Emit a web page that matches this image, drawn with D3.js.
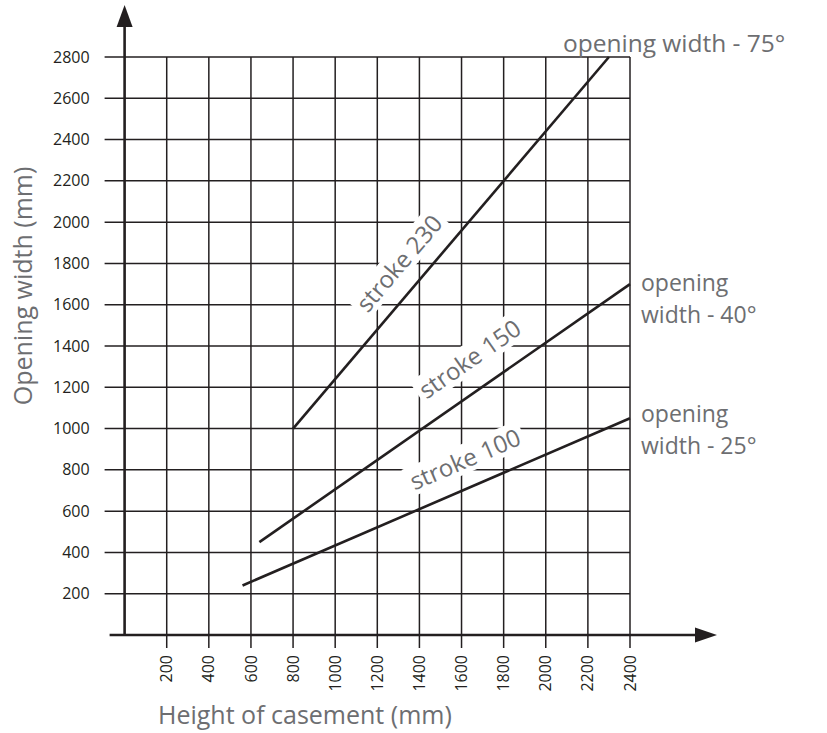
<!DOCTYPE html>
<html>
<head>
<meta charset="utf-8">
<script src="https://cdn.jsdelivr.net/npm/d3@7"></script>
<style>
  html, body { margin: 0; padding: 0; background: #fff; }
  svg { display: block; }
</style>
</head>
<body>
<svg id="chart" width="827" height="733"></svg>
<script>
// ---- data ----
const xTicks = [200, 400, 600, 800, 1000, 1200, 1400, 1600, 1800, 2000, 2200, 2400];
const yTicks = [200, 400, 600, 800, 1000, 1200, 1400, 1600, 1800, 2000, 2200, 2400, 2600, 2800];
const seriesNames = ["stroke 230", "stroke 150", "stroke 100"];
const endLabels = [["opening width - 75°"], ["opening", "width - 40°"], ["opening", "width - 25°"]];
const stroke230 = [[800, 1000], [2300, 2800]];
const stroke150 = [[640, 450], [2400, 1700]];
const stroke100 = [[560, 240], [2400, 1050]];
const labelAt = [[1305, 1800], [1640, 1336], [1618, 850]];
const xTitle = "Height of casement (mm)";
const yTitle = "Opening width (mm)";

const series = [stroke230, stroke150, stroke100];

// ---- layout ----
const svg = d3.select("#chart");
const ink = "#231f20";
const grey = "#6d6e71";
const font = "'Open Sans', 'Noto Sans', sans-serif";

const x = d3.scaleLinear().domain([0, 2400]).range([124.6, 630]);
const y = d3.scaleLinear().domain([0, 2800]).range([635, 57]);

// grid
const grid = svg.append("g");
grid.selectAll("line.h").data(yTicks).join("line")
  .attr("x1", x(0) - 20).attr("x2", x(2400))
  .attr("y1", d => y(d)).attr("y2", d => y(d))
  .attr("stroke", ink).attr("stroke-width", 1.5);
grid.selectAll("line.v").data(xTicks).join("line")
  .attr("x1", d => x(d)).attr("x2", d => x(d))
  .attr("y1", y(2800)).attr("y2", y(0) + 13)
  .attr("stroke", ink).attr("stroke-width", 1.5);

// y tick labels
svg.append("g").selectAll("text").data(yTicks).join("text")
  .attr("x", x(0) - 35).attr("y", d => y(d)).attr("dy", "0.35em")
  .attr("text-anchor", "end")
  .attr("font-family", font).attr("font-size", 16).attr("fill", ink)
  .text(d => d);

// x tick labels (rotated)
svg.append("g").selectAll("text").data(xTicks).join("text")
  .attr("transform", d => `translate(${x(d)},${y(0) + 20}) rotate(-90)`)
  .attr("dy", "0.35em")
  .attr("text-anchor", "end")
  .attr("font-family", font).attr("font-size", 16).attr("fill", ink)
  .text(d => d);

// series labels with white knockout
const lab = svg.append("g");
series.forEach((s, i) => {
  const p0 = [x(s[0][0]), y(s[0][1])], p1 = [x(s[1][0]), y(s[1][1])];
  const ang = Math.atan2(p1[1] - p0[1], p1[0] - p0[0]) * 180 / Math.PI;
  const g = lab.append("g")
    .attr("transform", `translate(${x(labelAt[i][0])},${y(labelAt[i][1])}) rotate(${ang})`);
  const t = g.append("text")
    .attr("text-anchor", "middle").attr("dy", "0.35em")
    .attr("font-family", font).attr("font-size", 24).attr("fill", grey)
    .text(seriesNames[i]);
  const bb = t.node().getBBox();
  g.insert("rect", "text")
    .attr("x", bb.x - 4).attr("y", bb.y + 2)
    .attr("width", bb.width + 8).attr("height", bb.height - 4)
    .attr("fill", "#fff");
});

// data lines
const line = d3.line().x(d => x(d[0])).y(d => y(d[1]));
svg.append("g").selectAll("path").data(series).join("path")
  .attr("d", line).attr("fill", "none")
  .attr("stroke", ink).attr("stroke-width", 2.6);

// end labels (one text element per line)
const endPos = [[-46, -5], [11, 7], [11, 4]];
series.forEach((s, i) => {
  const e = s[s.length - 1];
  endLabels[i].forEach((ln, k) => {
    svg.append("text")
      .attr("x", x(e[0]) + endPos[i][0])
      .attr("y", y(e[1]) + endPos[i][1] + k * 31.5)
      .attr("font-family", font).attr("font-size", i === 0 ? 24.5 : 23).attr("fill", grey)
      .text(ln);
  });
});

// axes with arrows
const ax = svg.append("g");
ax.append("line").attr("x1", x(0) - 15).attr("x2", 700).attr("y1", y(0)).attr("y2", y(0))
  .attr("stroke", ink).attr("stroke-width", 2.6);
ax.append("path").attr("d", `M717,${y(0)} L695,${y(0) - 7.5} L695,${y(0) + 7.5} Z`).attr("fill", ink);
ax.append("line").attr("x1", x(0)).attr("x2", x(0)).attr("y1", y(0) + 1).attr("y2", 22)
  .attr("stroke", ink).attr("stroke-width", 2.6);
ax.append("path").attr("d", `M${x(0)},5 L${x(0) - 8},27 L${x(0) + 8},27 Z`).attr("fill", ink);

// axis titles
svg.append("text")
  .attr("x", 158).attr("y", 724)
  .attr("font-family", font).attr("font-size", 25).attr("fill", grey)
  .text(xTitle);
svg.append("text")
  .attr("transform", "translate(32,286) rotate(-90)")
  .attr("text-anchor", "middle")
  .attr("font-family", font).attr("font-size", 25).attr("fill", grey)
  .text(yTitle);
</script>
</body>
</html>
